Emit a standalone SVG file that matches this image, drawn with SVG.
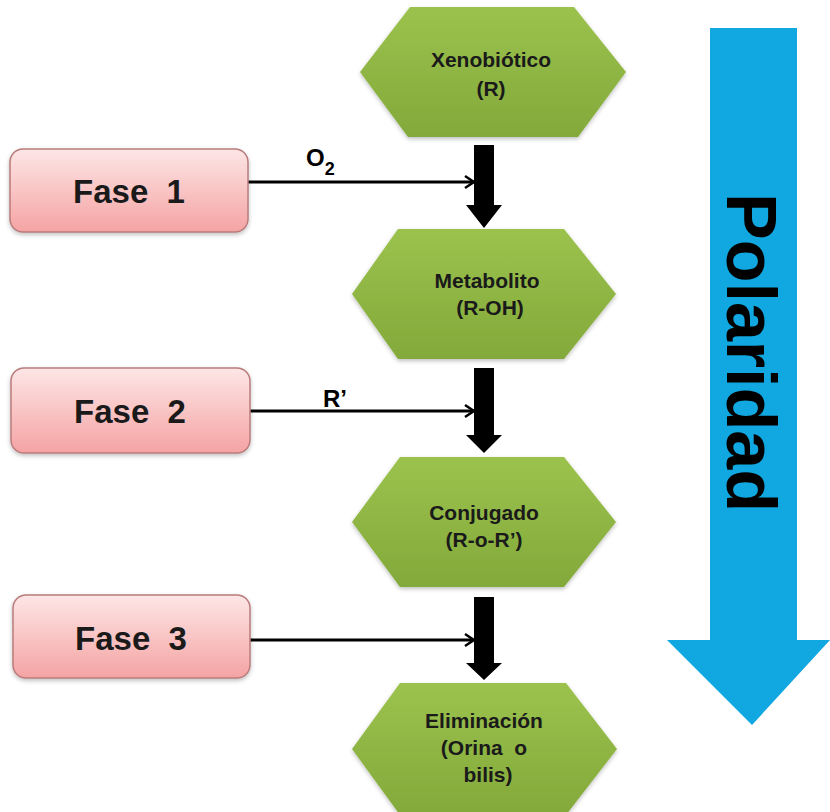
<svg xmlns="http://www.w3.org/2000/svg" width="830" height="812" viewBox="0 0 830 812">
<defs>
<linearGradient id="gGreen" x1="0" y1="0" x2="0" y2="1">
<stop offset="0" stop-color="#9cc24e"/>
<stop offset="1" stop-color="#82a93a"/>
</linearGradient>
<linearGradient id="gPink" x1="0" y1="0" x2="0" y2="1">
<stop offset="0" stop-color="#fde6e6"/>
<stop offset="1" stop-color="#f5a3a3"/>
</linearGradient>
<filter id="sh" x="-10%" y="-10%" width="120%" height="130%">
<feDropShadow dx="0" dy="2" stdDeviation="2" flood-color="#000" flood-opacity="0.25"/>
</filter>
<marker id="chev" markerWidth="14" markerHeight="16" refX="11" refY="8" orient="auto" markerUnits="userSpaceOnUse">
<path d="M2,2 L11,8 L2,14" fill="none" stroke="#000" stroke-width="2.5"/>
</marker>
</defs>
<style>
.hex{fill:url(#gGreen);filter:url(#sh);}
.fase{fill:url(#gPink);stroke:#b97c7c;stroke-width:1.5;filter:url(#sh);}
.ht{font-family:"Liberation Sans",Arial,sans-serif;font-weight:bold;font-size:21px;fill:#1a1a1a;text-anchor:middle;}
.ft{font-family:"Liberation Sans",Arial,sans-serif;font-weight:bold;font-size:33px;fill:#1a1a1a;text-anchor:middle;}
.lbl{font-family:"Liberation Sans",Arial,sans-serif;font-weight:bold;font-size:24px;fill:#000;}
.conn{stroke:#000;stroke-width:3;fill:none;}
.down{fill:#000;}
</style>
<rect width="830" height="812" fill="#fff"/>

<g id="polaridad">
<polygon points="710,28 797,28 797,640 830,640 752,725 667,640 710,640" fill="#11a7e0"/>
<text transform="translate(727,193) rotate(90)" font-family="'Liberation Sans',Arial,sans-serif" font-weight="bold" font-size="70" fill="#000">Polaridad</text>
</g>

<g id="connectors">
<line class="conn" x1="248" y1="182" x2="474" y2="182" marker-end="url(#chev)"/>
<line class="conn" x1="250" y1="411" x2="474" y2="411" marker-end="url(#chev)"/>
<line class="conn" x1="250" y1="640" x2="474" y2="640" marker-end="url(#chev)"/>
<polygon class="down" points="474,145 494,145 494,205 502,205 484,228 466,205 474,205"/>
<polygon class="down" points="474,368 494,368 494,435 502,435 484,453 466,435 474,435"/>
<polygon class="down" points="474,597 494,597 494,663 502,663 484,680 466,663 474,663"/>
<text class="lbl" x="306" y="166">O<tspan font-size="18" dy="9">2</tspan></text>
<text class="lbl" x="323" y="407">R’</text>
</g>

<g id="xenobiotico">
<polygon class="hex" points="410,7 574,7 626,72 578,137 408,137 360,72"/>
<text class="ht" x="491" y="67">Xenobiótico</text>
<text class="ht" x="491" y="96">(R)</text>
</g>

<g id="metabolito">
<polygon class="hex" points="398,229 564,229 616,294 564,359 398,359 352,294"/>
<text class="ht" x="487" y="288">Metabolito</text>
<text class="ht" x="490" y="315">(R-OH)</text>
</g>

<g id="conjugado">
<polygon class="hex" points="400,457 564,457 616,522 564,587 400,587 352,522"/>
<text class="ht" x="484" y="520">Conjugado</text>
<text class="ht" x="484" y="547">(R-o-R’)</text>
</g>

<g id="eliminacion">
<polygon class="hex" points="400,683 566,683 617,749 566,815 400,815 352,749"/>
<text class="ht" x="484" y="728">Eliminación</text>
<text class="ht" x="484" y="755">(Orina&#160; o</text>
<text class="ht" x="488" y="782">bilis)</text>
</g>

<g id="fase1">
<rect class="fase" x="10" y="149" width="238" height="83" rx="13"/>
<text class="ft" x="129" y="203">Fase&#160; 1</text>
</g>
<g id="fase2">
<rect class="fase" x="11" y="368" width="239" height="85" rx="13"/>
<text class="ft" x="130" y="423">Fase&#160; 2</text>
</g>
<g id="fase3">
<rect class="fase" x="13" y="595" width="237" height="83" rx="13"/>
<text class="ft" x="131" y="650">Fase&#160; 3</text>
</g>
</svg>
